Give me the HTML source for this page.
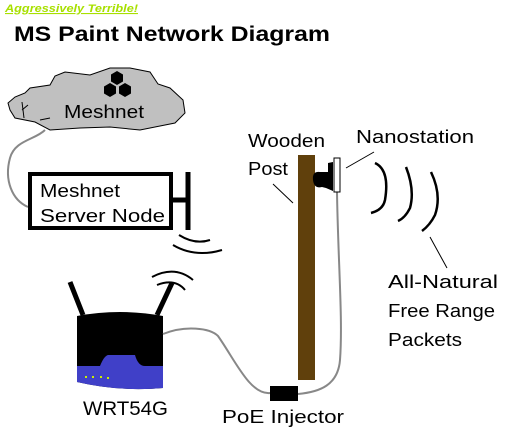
<!DOCTYPE html>
<html><head><meta charset="utf-8"><style>
html,body{margin:0;padding:0;background:#fff;}
svg{display:block;}
text{font-family:"Comic Sans MS","Liberation Sans",sans-serif;fill:#000;}
</style></head><body>
<svg width="514" height="446" viewBox="0 0 514 446" xmlns="http://www.w3.org/2000/svg">
<text x="5" y="12" font-size="11" font-style="italic" font-weight="bold" style="fill:#a8e000" text-decoration="underline" textLength="133" lengthAdjust="spacingAndGlyphs">Aggressively Terrible!</text>
<text x="14" y="41" font-size="21" font-weight="bold" textLength="316" lengthAdjust="spacingAndGlyphs">MS Paint Network Diagram</text>
<!-- cloud -->
<path d="M10,110 L8,103 L15,97 L25,93 L30,88 L50,85 L55,76 L65,72 L90,75 L110,68 L130,68 L150,72 L158,84 L170,88 L183,100 L185,113 L175,123 L150,128 L140,130 L110,127 L80,128 L50,130 L35,122 L15,118 Z" fill="#c0c0c0" stroke="#000" stroke-width="1"/>
<path d="M22,110 L28,105 M22,102 L24,118 M40,120 L50,118" stroke="#000" stroke-width="1" fill="none"/>
<g fill="#000">
<polygon points="117,71 123,74.5 123,81.5 117,85 111,81.5 111,74.5"/>
<polygon points="110,83 116,86.5 116,93.5 110,97 104,93.5 104,86.5"/>
<polygon points="125,83 131,86.5 131,93.5 125,97 119,93.5 119,86.5"/>
</g>
<text x="64" y="118" font-size="18" textLength="80" lengthAdjust="spacingAndGlyphs">Meshnet</text>
<path d="M45,130 C35,140 15,140 10,158 C4,180 12,200 28,207" stroke="#888" stroke-width="2" fill="none"/>
<rect x="30" y="174" width="141" height="54" fill="#fff" stroke="#000" stroke-width="4"/>
<text x="40" y="197" font-size="18" textLength="80" lengthAdjust="spacingAndGlyphs">Meshnet</text>
<text x="40" y="222" font-size="18" textLength="125" lengthAdjust="spacingAndGlyphs">Server Node</text>
<path d="M171,200 H188 M188,172 V230" stroke="#000" stroke-width="5" fill="none"/>
<path d="M179,235 Q195,245 210,240 M173,245 Q195,258 222,250" stroke="#000" stroke-width="2" fill="none"/>
<!-- router -->
<path d="M70,282 L83,315 M172,283 L157,315" stroke="#000" stroke-width="5" fill="none"/>
<path d="M152,277 Q175,265 193,280 M157,285 Q175,278 185,290" stroke="#000" stroke-width="2" fill="none"/>
<path d="M77,316 Q120,308 163,316 V388 Q120,392 77,382 Z" fill="#000"/>
<path d="M77,366 L100,366 Q104,356 108,355 L135,355 Q138,366 145,366 L163,366 V388 Q120,392 77,382 Z" fill="#4040c8"/>
<g fill="#c8f000"><rect x="85" y="376" width="2" height="2"/><rect x="92" y="376" width="2" height="2"/><rect x="100" y="376" width="2" height="2"/><rect x="107" y="377" width="2" height="2"/></g>
<text x="83" y="415" font-size="19" textLength="85" lengthAdjust="spacingAndGlyphs">WRT54G</text>
<path d="M163,334 C185,325 210,328 218,336 C235,360 250,395 270,393" stroke="#888" stroke-width="2" fill="none"/>
<path d="M298,394 C320,392 338,385 340,360 C343,320 338,260 337,192" stroke="#888" stroke-width="2" fill="none"/>
<rect x="298" y="155" width="17" height="225" fill="#60400c"/>
<rect x="270" y="386" width="28" height="15" fill="#000"/>
<text x="222" y="423" font-size="18" textLength="122" lengthAdjust="spacingAndGlyphs">PoE Injector</text>
<path d="M313,180 Q312,171 320,172 L328,172 L328,163 L333,162 L333,191 L326,188 L322,187 Q314,189 313,180Z" fill="#000"/>
<rect x="334" y="158" width="6" height="34" fill="#fff" stroke="#000" stroke-width="1"/>
<text x="248" y="147" font-size="18" textLength="77" lengthAdjust="spacingAndGlyphs">Wooden</text>
<text x="248" y="175" font-size="18" textLength="40" lengthAdjust="spacingAndGlyphs">Post</text>
<text x="356" y="143" font-size="18" textLength="118" lengthAdjust="spacingAndGlyphs">Nanostation</text>
<path d="M273,184 L293,203 M374,152 L346,168 M430,237 L447,268" stroke="#000" stroke-width="1" fill="none"/>
<path d="M375,163 Q390,170 385,200 Q383,210 371,213 M406,167 Q415,190 410,208 Q405,218 398,221 M431,172 Q442,195 435,215 Q430,225 422,231" stroke="#000" stroke-width="2.5" fill="none"/>
<text x="388" y="288" font-size="18" textLength="110" lengthAdjust="spacingAndGlyphs">All-Natural</text>
<text x="388" y="317" font-size="18" textLength="107" lengthAdjust="spacingAndGlyphs">Free Range</text>
<text x="388" y="346" font-size="18" textLength="74" lengthAdjust="spacingAndGlyphs">Packets</text>
</svg>
</body></html>
